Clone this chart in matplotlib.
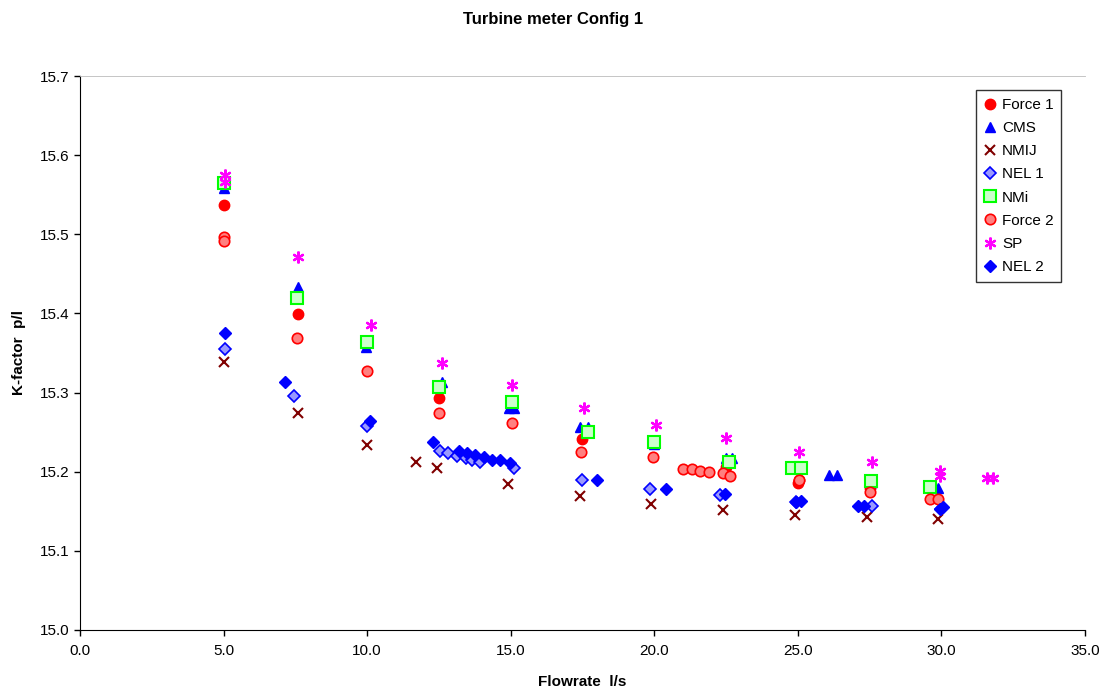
import matplotlib
matplotlib.use("Agg")
import matplotlib.pyplot as plt
from matplotlib.ticker import MultipleLocator, FormatStrFormatter

plt.rcParams['font.family'] = ['Liberation Sans', 'DejaVu Sans']

# data
force1_x = [5.0, 7.6, 10.0, 12.5, 15.0, 17.5, 20.0, 22.5, 25.0, 25.05, 27.5]
force1_y = [15.537, 15.399, 15.363, 15.293, 15.288, 15.241, 15.237, 15.206, 15.186, 15.190, 15.180]

cms_x = [5.0, 7.6, 9.95, 12.6, 14.95, 15.1, 17.4, 17.7, 20.0, 22.5, 22.7, 26.1, 26.35, 27.6, 29.9]
cms_y = [15.558, 15.433, 15.358, 15.313, 15.280, 15.280, 15.256, 15.256, 15.235, 15.217, 15.217, 15.196, 15.196, 15.187, 15.180]

nmij_x = [5.0, 7.6, 10.0, 11.7, 12.45, 14.9, 17.4, 19.9, 22.4, 24.9, 27.4, 29.9]
nmij_y = [15.339, 15.274, 15.234, 15.212, 15.205, 15.184, 15.169, 15.159, 15.152, 15.145, 15.143, 15.140]

nel1_x = [5.05, 7.45, 10.0, 12.54, 12.82, 13.13, 13.44, 13.65, 13.93, 15.12, 17.5, 19.85, 22.3, 24.95, 27.6, 30.0]
nel1_y = [15.355, 15.296, 15.258, 15.226, 15.224, 15.220, 15.217, 15.215, 15.212, 15.205, 15.190, 15.178, 15.170, 15.162, 15.157, 15.153]

nmi_x = [5.0, 7.55, 10.0, 12.5, 15.05, 17.7, 20.0, 22.6, 24.8, 25.1, 27.55, 29.6]
nmi_y = [15.565, 15.419, 15.364, 15.307, 15.288, 15.250, 15.238, 15.212, 15.205, 15.205, 15.188, 15.181]

force2_x = [5.0, 5.0, 7.55, 10.0, 12.5, 15.05, 17.45, 19.95, 21.0, 21.3, 21.6, 21.9, 22.4, 22.65, 25.05, 27.5, 29.6, 29.9]
force2_y = [15.497, 15.492, 15.369, 15.327, 15.274, 15.261, 15.225, 15.218, 15.204, 15.203, 15.201, 15.200, 15.198, 15.195, 15.189, 15.174, 15.166, 15.166]

sp_x = [5.05, 5.05, 7.6, 10.15, 12.6, 15.05, 17.55, 20.05, 22.5, 25.05, 27.6, 29.95, 29.95, 31.6, 31.8]
sp_y = [15.575, 15.566, 15.471, 15.385, 15.337, 15.309, 15.281, 15.259, 15.243, 15.225, 15.212, 15.201, 15.194, 15.192, 15.192]

nel2_x = [5.05, 7.15, 10.1, 12.3, 13.2, 13.48, 13.76, 14.07, 14.35, 14.63, 14.98, 18.0, 20.4, 22.45, 24.95, 25.1, 27.1, 27.3, 29.95, 30.05]
nel2_y = [15.375, 15.313, 15.264, 15.238, 15.226, 15.224, 15.221, 15.219, 15.215, 15.215, 15.211, 15.190, 15.178, 15.172, 15.162, 15.163, 15.157, 15.157, 15.153, 15.155]

fig = plt.figure(figsize=(11.07, 6.91), dpi=100)
ax = fig.add_axes([0.0723, 0.0883, 0.9077, 0.8017])

ax.plot(force1_x, force1_y, 'o', color='#ff0000', mec='#ff0000', ms=7.5, label='Force 1')
ax.plot(cms_x, cms_y, '^', color='#0000ff', mec='#0000ff', ms=7.5, label='CMS')
ax.plot(nmij_x, nmij_y, 'x', color='#800000', mew=1.5, ms=7, label='NMIJ')
ax.plot(nel1_x, nel1_y, 'D', color='#9999ff', mec='#0000ff', mew=1.2, ms=6, label='NEL 1')
ax.plot(nmi_x, nmi_y, 's', color='#ccffcc', mec='#00ff00', mew=1.5, ms=8, label='NMi')
ax.plot(force2_x, force2_y, 'o', color='#ff8080', mec='#ff0000', mew=1.2, ms=7.5, label='Force 2')
ax.plot(sp_x, sp_y, marker=(6, 2, 0), ls='none', color='#ff00ff', mew=1.6, ms=8.5, label='SP')
ax.plot(nel2_x, nel2_y, 'D', color='#0000ff', mec='#0000ff', ms=6, label='NEL 2')

ax.set_xlim(0, 35)
ax.set_ylim(15.0, 15.7)
ax.xaxis.set_major_locator(MultipleLocator(5))
ax.yaxis.set_major_locator(MultipleLocator(0.1))
ax.xaxis.set_major_formatter(FormatStrFormatter('%.1f'))
ax.yaxis.set_major_formatter(FormatStrFormatter('%.1f'))
ax.tick_params(direction='out', length=4, labelsize=11, width=1)
ax.tick_params(axis='x', pad=6)
ax.spines['right'].set_visible(False)
ax.spines['top'].set_color('#bbbbbb')
ax.spines['top'].set_linewidth(0.6)

ax.set_xlabel('Flowrate  l/s', fontsize=11, fontweight='bold', labelpad=12)
ax.set_ylabel('K-factor  p/l', fontsize=11, fontweight='bold', labelpad=10)
fig.suptitle('Turbine meter Config 1', fontsize=12, fontweight='bold', y=0.983)

leg = ax.legend(loc='upper right', bbox_to_anchor=(0.984, 0.988), fontsize=11,
                frameon=True, fancybox=False, edgecolor='black', handlelength=0.8,
                handletextpad=0.4, labelspacing=0.6, borderpad=0.5, numpoints=1)
leg.get_frame().set_linewidth(1.0)

fig.savefig('out.png', dpi=100)
